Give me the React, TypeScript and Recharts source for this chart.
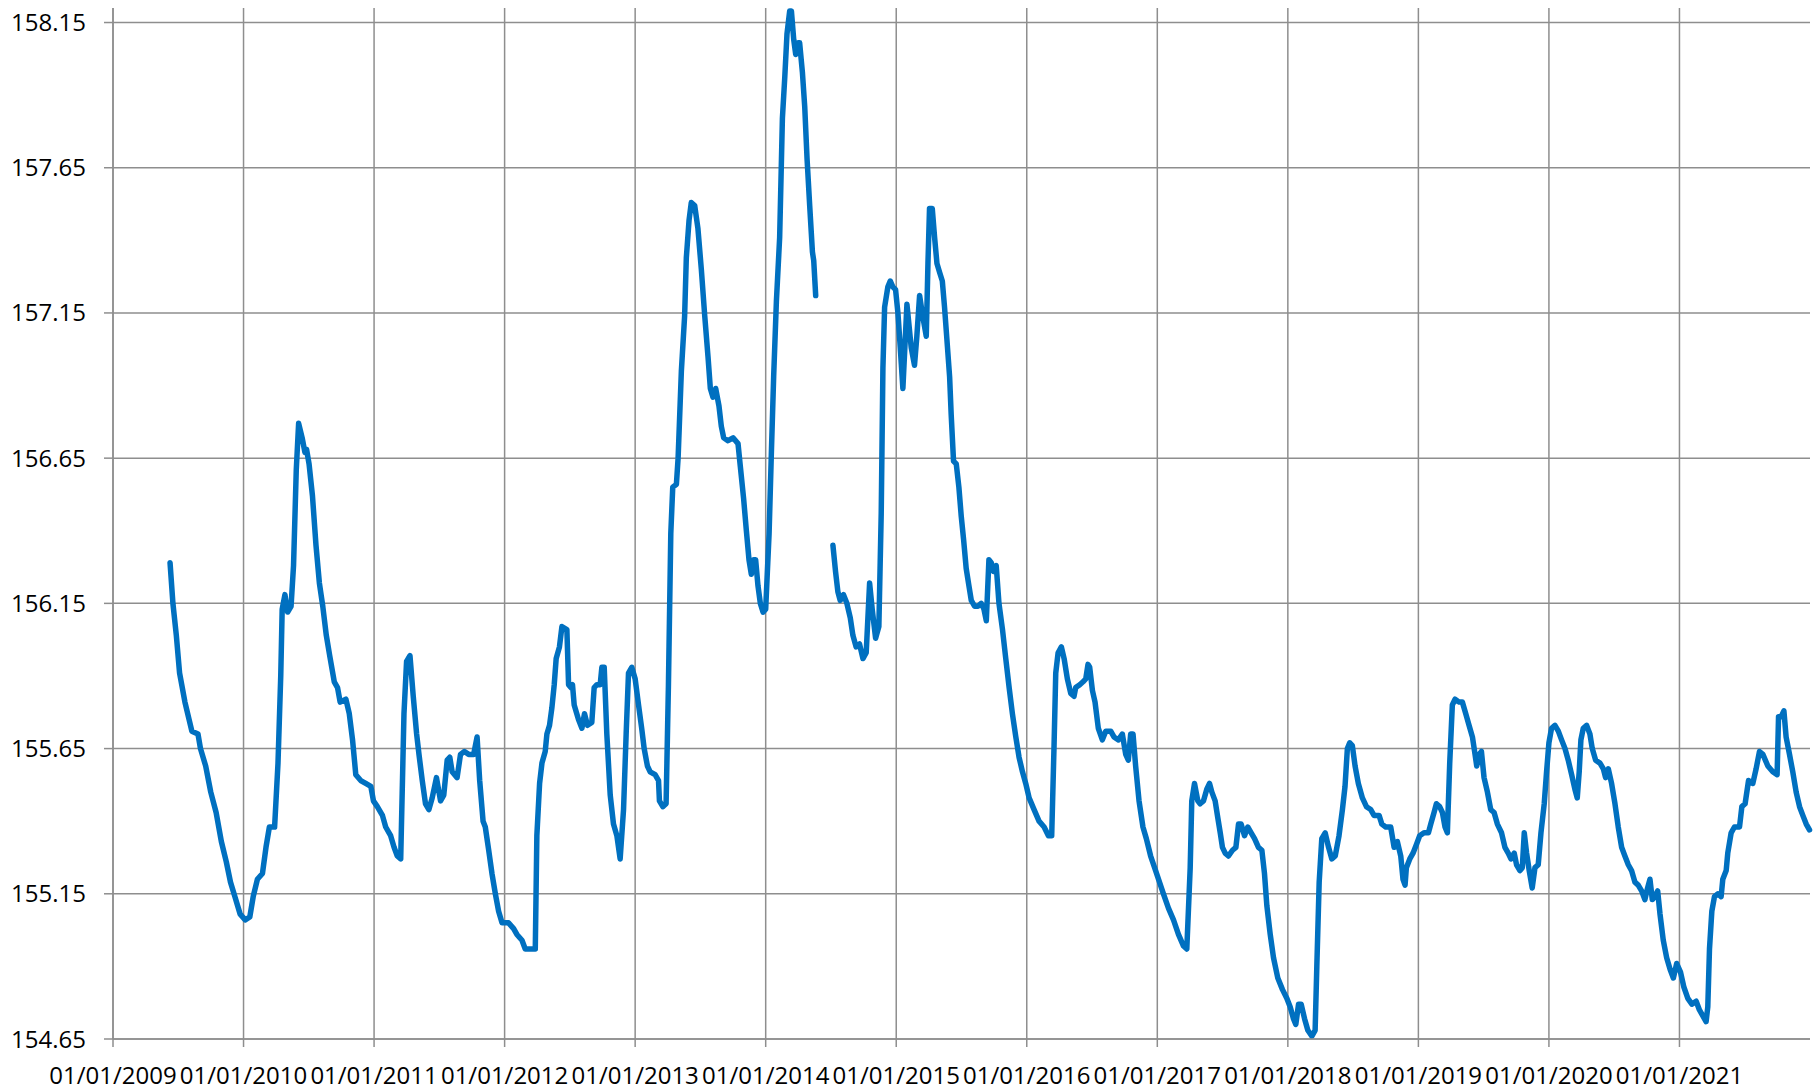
import React from 'react';
import { LineChart, Line, XAxis, YAxis, CartesianGrid } from 'recharts';

// decimal years (null level = gap in the record)
const dates = [
  2009.437, 2009.459, 2009.485, 2009.51, 2009.551, 2009.583, 2009.604, 2009.651, 2009.67, 2009.71,
  2009.749, 2009.79, 2009.83, 2009.868, 2009.9, 2009.934, 2009.974, 2010.013, 2010.048, 2010.074,
  2010.106, 2010.145, 2010.172, 2010.198, 2010.238, 2010.264, 2010.285, 2010.296, 2010.317, 2010.338,
  2010.364, 2010.383, 2010.404, 2010.422, 2010.449, 2010.47, 2010.483, 2010.502, 2010.528, 2010.555,
  2010.581, 2010.607, 2010.634, 2010.66, 2010.695, 2010.72, 2010.74, 2010.784, 2010.81, 2010.835,
  2010.86, 2010.898, 2010.936, 2010.975, 2010.995, 2011.025, 2011.064, 2011.089, 2011.127, 2011.153,
  2011.178, 2011.204, 2011.229, 2011.249, 2011.275, 2011.3, 2011.326, 2011.344, 2011.369, 2011.394,
  2011.42, 2011.445, 2011.478, 2011.509, 2011.534, 2011.56, 2011.58, 2011.598, 2011.636, 2011.662,
  2011.692, 2011.725, 2011.763, 2011.789, 2011.809, 2011.835, 2011.852, 2011.878, 2011.903, 2011.929,
  2011.954, 2011.98, 2012.03, 2012.069, 2012.094, 2012.133, 2012.158, 2012.196, 2012.235, 2012.247,
  2012.268, 2012.286, 2012.311, 2012.324, 2012.344, 2012.362, 2012.38, 2012.395, 2012.42, 2012.439,
  2012.477, 2012.49, 2012.508, 2012.52, 2012.533, 2012.566, 2012.592, 2012.612, 2012.635, 2012.668,
  2012.686, 2012.707, 2012.732, 2012.745, 2012.763, 2012.783, 2012.809, 2012.834, 2012.86, 2012.885,
  2012.911, 2012.931, 2012.949, 2012.974, 2013.0, 2013.026, 2013.05, 2013.069, 2013.094, 2013.115,
  2013.153, 2013.179, 2013.186, 2013.212, 2013.237, 2013.255, 2013.273, 2013.288, 2013.316, 2013.329,
  2013.354, 2013.379, 2013.392, 2013.413, 2013.43, 2013.456, 2013.481, 2013.507, 2013.533, 2013.558,
  2013.576, 2013.596, 2013.617, 2013.642, 2013.66, 2013.678, 2013.711, 2013.75, 2013.788, 2013.806,
  2013.831, 2013.852, 2013.872, 2013.89, 2013.908, 2013.923, 2013.941, 2013.959, 2013.98, 2014.0,
  2014.026, 2014.043, 2014.061, 2014.082, 2014.107, 2014.128, 2014.146, 2014.163, 2014.184, 2014.197,
  2014.215, 2014.23, 2014.248, 2014.26, 2014.281, 2014.299, 2014.317, 2014.337, 2014.358, 2014.368,
  2014.383, 2014.45, 2014.515, 2014.535, 2014.553, 2014.571, 2014.596, 2014.622, 2014.648, 2014.668,
  2014.693, 2014.719, 2014.745, 2014.77, 2014.796, 2014.816, 2014.842, 2014.867, 2014.885, 2014.898,
  2014.911, 2014.936, 2014.954, 2014.974, 2014.995, 2015.013, 2015.031, 2015.051, 2015.082, 2015.115,
  2015.14, 2015.158, 2015.179, 2015.199, 2015.23, 2015.243, 2015.255, 2015.276, 2015.294, 2015.312,
  2015.332, 2015.353, 2015.37, 2015.388, 2015.409, 2015.421, 2015.439, 2015.46, 2015.48, 2015.498,
  2015.516, 2015.536, 2015.557, 2015.575, 2015.6, 2015.626, 2015.651, 2015.672, 2015.69, 2015.71,
  2015.728, 2015.746, 2015.766, 2015.787, 2015.814, 2015.839, 2015.865, 2015.89, 2015.916, 2015.941,
  2015.967, 2015.992, 2016.018, 2016.056, 2016.094, 2016.133, 2016.166, 2016.191, 2016.209, 2016.222,
  2016.24, 2016.265, 2016.286, 2016.311, 2016.337, 2016.362, 2016.375, 2016.406, 2016.431, 2016.452,
  2016.469, 2016.482, 2016.503, 2016.523, 2016.548, 2016.579, 2016.605, 2016.643, 2016.668, 2016.702,
  2016.732, 2016.758, 2016.778, 2016.796, 2016.814, 2016.834, 2016.86, 2016.89, 2016.916, 2016.949,
  2016.987, 2017.047, 2017.086, 2017.124, 2017.162, 2017.201, 2017.226, 2017.252, 2017.264, 2017.285,
  2017.31, 2017.328, 2017.354, 2017.379, 2017.4, 2017.418, 2017.443, 2017.464, 2017.482, 2017.499,
  2017.52, 2017.545, 2017.576, 2017.602, 2017.622, 2017.642, 2017.668, 2017.693, 2017.719, 2017.745,
  2017.775, 2017.801, 2017.821, 2017.839, 2017.865, 2017.89, 2017.923, 2017.959, 2017.992, 2018.018,
  2018.043, 2018.061, 2018.082, 2018.102, 2018.128, 2018.153, 2018.184, 2018.209, 2018.222, 2018.24,
  2018.26, 2018.286, 2018.312, 2018.337, 2018.363, 2018.392, 2018.418, 2018.438, 2018.456, 2018.474,
  2018.494, 2018.515, 2018.54, 2018.571, 2018.602, 2018.635, 2018.66, 2018.699, 2018.72, 2018.75,
  2018.788, 2018.814, 2018.839, 2018.865, 2018.882, 2018.898, 2018.908, 2018.934, 2018.959, 2018.985,
  2019.01, 2019.043, 2019.077, 2019.095, 2019.12, 2019.138, 2019.163, 2019.184, 2019.204, 2019.222,
  2019.24, 2019.26, 2019.281, 2019.312, 2019.337, 2019.363, 2019.388, 2019.414, 2019.434, 2019.447,
  2019.465, 2019.483, 2019.503, 2019.529, 2019.554, 2019.58, 2019.605, 2019.637, 2019.663, 2019.688,
  2019.709, 2019.734, 2019.752, 2019.778, 2019.796, 2019.811, 2019.829, 2019.849, 2019.872, 2019.893,
  2019.918, 2019.939, 2019.964, 2019.982, 2020.0, 2020.02, 2020.046, 2020.072, 2020.097, 2020.123,
  2020.148, 2020.174, 2020.199, 2020.217, 2020.232, 2020.245, 2020.263, 2020.289, 2020.314, 2020.332,
  2020.358, 2020.391, 2020.417, 2020.434, 2020.455, 2020.48, 2020.506, 2020.531, 2020.557, 2020.582,
  2020.608, 2020.633, 2020.659, 2020.684, 2020.71, 2020.735, 2020.756, 2020.774, 2020.792, 2020.812,
  2020.833, 2020.851, 2020.876, 2020.902, 2020.928, 2020.953, 2020.979, 2021.008, 2021.033, 2021.064,
  2021.095, 2021.128, 2021.153, 2021.179, 2021.204, 2021.217, 2021.23, 2021.248, 2021.268, 2021.294,
  2021.319, 2021.332, 2021.358, 2021.37, 2021.396, 2021.421, 2021.46, 2021.478, 2021.503, 2021.529,
  2021.562, 2021.587, 2021.613, 2021.639, 2021.677, 2021.715, 2021.748, 2021.759, 2021.779, 2021.8,
  2021.817, 2021.843, 2021.868, 2021.894, 2021.92, 2021.945, 2021.971, 2021.996,
];

const levels = [
  156.29, 156.15, 156.04, 155.91, 155.81, 155.75, 155.71, 155.7, 155.65, 155.59,
  155.5, 155.43, 155.33, 155.26, 155.19, 155.14, 155.08, 155.06, 155.07, 155.14,
  155.2, 155.22, 155.31, 155.38, 155.38, 155.6, 155.9, 156.13, 156.18, 156.12,
  156.14, 156.28, 156.61, 156.77, 156.72, 156.67, 156.68, 156.63, 156.52, 156.35,
  156.22, 156.14, 156.04, 155.97, 155.88, 155.86, 155.81, 155.82, 155.77, 155.68,
  155.56, 155.54, 155.53, 155.52, 155.47, 155.45, 155.42, 155.38, 155.35, 155.31,
  155.28, 155.27, 155.77, 155.95, 155.97, 155.83, 155.7, 155.63, 155.54, 155.46,
  155.44, 155.48, 155.55, 155.47, 155.49, 155.61, 155.62, 155.57, 155.55, 155.63,
  155.64, 155.63, 155.63, 155.69, 155.54, 155.4, 155.38, 155.3, 155.22, 155.15,
  155.09, 155.05, 155.05, 155.03, 155.01, 154.99, 154.96, 154.96, 154.96, 155.35,
  155.53, 155.6, 155.64, 155.7, 155.73, 155.79, 155.87, 155.96, 156.0, 156.07,
  156.06, 155.87, 155.86, 155.87, 155.8, 155.75, 155.72, 155.77, 155.73, 155.74,
  155.86, 155.87, 155.87, 155.93, 155.93, 155.7, 155.49, 155.39, 155.35, 155.27,
  155.44, 155.7, 155.91, 155.93, 155.89, 155.8, 155.72, 155.65, 155.59, 155.57,
  155.56, 155.54, 155.47, 155.45, 155.46, 155.87, 156.39, 156.55, 156.56, 156.65,
  156.95, 157.14, 157.34, 157.47, 157.53, 157.52, 157.44, 157.3, 157.14, 157.0,
  156.89, 156.86, 156.89, 156.83, 156.76, 156.72, 156.71, 156.72, 156.7, 156.62,
  156.51, 156.4, 156.3, 156.25, 156.3, 156.3, 156.21, 156.15, 156.12, 156.13,
  156.39, 156.66, 156.93, 157.19, 157.41, 157.82, 157.96, 158.11, 158.19, 158.19,
  158.09, 158.04, 158.08, 158.08, 157.98, 157.86, 157.68, 157.52, 157.36, 157.33,
  157.21, null, 156.35, 156.26, 156.19, 156.16, 156.18, 156.15, 156.1, 156.04,
  156.0, 156.01, 155.96, 155.98, 156.22, 156.13, 156.03, 156.07, 156.46, 156.96,
  157.17, 157.24, 157.26, 157.24, 157.23, 157.15, 157.03, 156.89, 157.18, 157.03,
  156.97, 157.07, 157.21, 157.15, 157.07, 157.32, 157.51, 157.51, 157.41, 157.32,
  157.29, 157.26, 157.17, 157.06, 156.93, 156.8, 156.64, 156.63, 156.55, 156.45,
  156.37, 156.27, 156.21, 156.16, 156.14, 156.14, 156.15, 156.13, 156.09, 156.3,
  156.29, 156.26, 156.28, 156.15, 156.06, 155.96, 155.86, 155.77, 155.69, 155.62,
  155.57, 155.53, 155.48, 155.44, 155.4, 155.38, 155.35, 155.35, 155.66, 155.91,
  155.98, 156.0, 155.96, 155.89, 155.84, 155.83, 155.86, 155.87, 155.88, 155.89,
  155.94, 155.93, 155.85, 155.81, 155.72, 155.68, 155.71, 155.71, 155.69, 155.68,
  155.7, 155.63, 155.61, 155.7, 155.7, 155.59, 155.47, 155.38, 155.34, 155.28,
  155.23, 155.15, 155.1, 155.06, 155.01, 154.97, 154.96, 155.24, 155.47, 155.53,
  155.47, 155.46, 155.47, 155.51, 155.53, 155.5, 155.47, 155.41, 155.36, 155.31,
  155.29, 155.28, 155.3, 155.31, 155.39, 155.39, 155.35, 155.38, 155.36, 155.34,
  155.31, 155.3, 155.22, 155.11, 155.01, 154.93, 154.86, 154.82, 154.79, 154.76,
  154.72, 154.7, 154.77, 154.77, 154.72, 154.68, 154.66, 154.68, 154.9, 155.19,
  155.34, 155.36, 155.31, 155.27, 155.28, 155.35, 155.44, 155.52, 155.65, 155.67,
  155.66, 155.59, 155.53, 155.48, 155.45, 155.44, 155.42, 155.42, 155.39, 155.38,
  155.38, 155.31, 155.33, 155.28, 155.2, 155.18, 155.24, 155.27, 155.29, 155.32,
  155.35, 155.36, 155.36, 155.39, 155.43, 155.46, 155.45, 155.43, 155.38, 155.36,
  155.6, 155.8, 155.82, 155.81, 155.81, 155.77, 155.73, 155.69, 155.63, 155.59,
  155.63, 155.64, 155.55, 155.5, 155.44, 155.43, 155.39, 155.36, 155.31, 155.29,
  155.27, 155.29, 155.25, 155.23, 155.24, 155.36, 155.29, 155.23, 155.17, 155.24,
  155.25, 155.36, 155.46, 155.57, 155.67, 155.72, 155.73, 155.71, 155.68, 155.65,
  155.61, 155.56, 155.51, 155.48, 155.57, 155.68, 155.72, 155.73, 155.7, 155.65,
  155.61, 155.6, 155.58, 155.55, 155.58, 155.53, 155.46, 155.38, 155.31, 155.28,
  155.25, 155.23, 155.19, 155.18, 155.16, 155.13, 155.17, 155.2, 155.13, 155.14,
  155.16, 155.08, 154.99, 154.93, 154.89, 154.86, 154.91, 154.88, 154.83, 154.79,
  154.77, 154.78, 154.75, 154.73, 154.71, 154.76, 154.96, 155.09, 155.14, 155.15,
  155.14, 155.2, 155.23, 155.29, 155.36, 155.38, 155.38, 155.45, 155.46, 155.54,
  155.53, 155.58, 155.64, 155.63, 155.59, 155.57, 155.56, 155.76, 155.76, 155.78,
  155.69, 155.63, 155.57, 155.5, 155.45, 155.42, 155.39, 155.37,
];

const yearTicks = [2009, 2010, 2011, 2012, 2013, 2014, 2015, 2016, 2017, 2018, 2019, 2020, 2021];
const levelTicks = [154.65, 155.15, 155.65, 156.15, 156.65, 157.15, 157.65, 158.15];
const xDomain = [2009, 2022];
const yDomain = [154.65, 158.2];

const data = dates.map((t, i) => ({ t, level: levels[i] }));

const font = { fontFamily: 'Open Sans', fontSize: 24, fill: '#000' };
const gray = '#8e8e8e';

// grid only at the tick values, no frame lines along the plot's top and right edges
const vGrid = ({ offset }: any) =>
  offset
    ? yearTicks.map((v) => offset.left + ((v - xDomain[0]) / (xDomain[1] - xDomain[0])) * offset.width)
    : [];
const hGrid = ({ offset }: any) =>
  offset
    ? levelTicks.map((v) => offset.top + ((yDomain[1] - v) / (yDomain[1] - yDomain[0])) * offset.height)
    : [];

export default function App() {
  return (
    <div style={{ position: 'absolute', left: 0, top: 0, background: '#fff' }}>
      <LineChart width={1817} height={1090} data={data} margin={{ top: 8, right: 7, bottom: 0, left: 0 }}>
        <CartesianGrid
          stroke={gray}
          strokeWidth={1.5}
          verticalCoordinatesGenerator={vGrid}
          horizontalCoordinatesGenerator={hGrid}
        />
        <XAxis
          dataKey="t"
          type="number"
          domain={xDomain}
          ticks={yearTicks}
          tickFormatter={(v) => `01/01/${v}`}
          interval={0}
          height={51}
          tickSize={8}
          tickMargin={20}
          tick={font}
          stroke={gray}
          strokeWidth={1.5}
        />
        <YAxis
          type="number"
          domain={yDomain}
          ticks={levelTicks}
          tickFormatter={(v) => v.toFixed(2)}
          allowDataOverflow
          width={113}
          tickSize={9}
          tickMargin={18}
          tick={font}
          stroke={gray}
          strokeWidth={1.5}
        />
        <Line
          type="linear"
          dataKey="level"
          stroke="#0070C0"
          strokeWidth={5.5}
          strokeLinejoin="round"
          strokeLinecap="round"
          dot={false}
          isAnimationActive={false}
        />
      </LineChart>
    </div>
  );
}
